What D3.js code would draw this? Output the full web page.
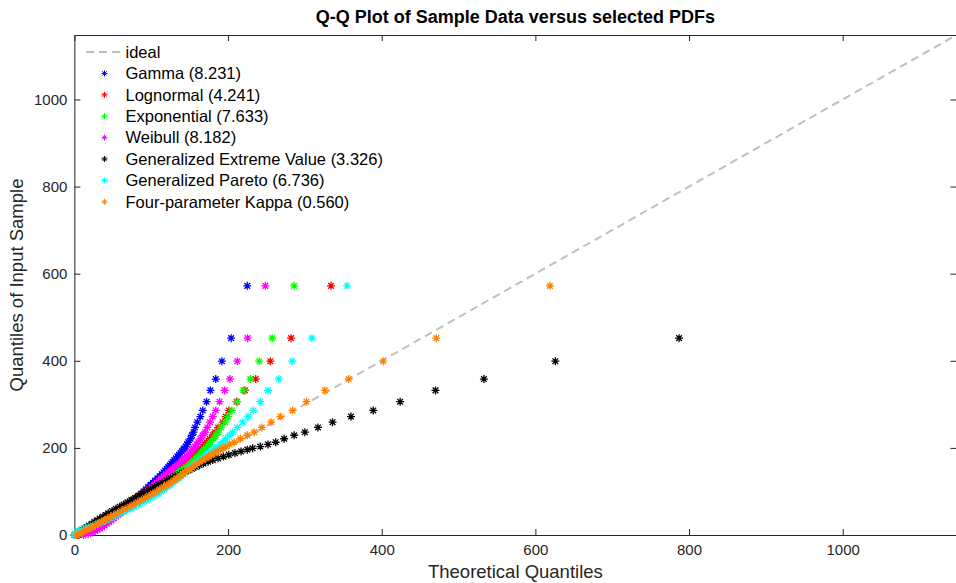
<!DOCTYPE html>
<meta charset="utf-8">
<style>

body {
    margin: 0;
    background: #fff;
}

.qq {
    font-family: "Liberation Sans", Arial, sans-serif;
}

.axis path,
.axis line {
    stroke: #262626;
}

.axis text {
    fill: #262626;
    font-size: 15px;
}

</style>
<svg class="qq" width="956" height="583"></svg>
<script src="https://d3js.org/d3.v7.min.js"></script>
<script>

// sample quantiles (shared by every fit), ascending
var sample = [0, 3, 6, 9, 12, 15, 18, 22, 26, 30, 34, 38, 42, 46, 50, 55, 60, 65, 70, 75,
    80, 85, 90, 95, 100, 105, 110, 115, 120, 125, 130, 135, 140, 144, 148, 152, 156, 160, 164, 168,
    172, 176, 180, 184, 188, 192, 196, 199, 203, 208, 213, 221, 229, 236, 247, 259, 272, 286, 306, 332,
    358, 399, 452, 572];

// theoretical quantiles, one list per fitted pdf
var gamma = [4, 9, 13, 17, 20, 23, 26, 30, 34, 37, 41, 44, 48, 51, 54, 58, 62, 65, 69, 73,
    76, 80, 83, 87, 90, 93, 96, 99, 102, 105, 108, 111, 114, 116, 118, 120, 122, 124, 126, 128,
    130, 132, 134, 136, 138, 140, 142, 143, 145, 146.5, 148, 151, 153, 155, 157, 160, 164, 167, 172, 177,
    184, 192, 204, 225];

var lognormal = [6, 8, 10, 12, 15, 17, 20, 24, 27, 31, 35, 38, 42, 46, 50, 54, 59, 63, 68, 72,
    77, 81, 85, 89, 93, 97, 101, 105, 109, 113, 117, 121, 125, 128, 131, 134, 137, 140, 143, 146,
    149, 151.5, 153.5, 156, 158.5, 161, 163.5, 165, 167.5, 170, 172, 176, 180, 183, 187, 193, 197, 201, 211, 222,
    236, 255, 282, 334];

var exponential = [2, 4, 7, 10, 13, 16, 19, 23, 27, 31, 35, 39, 43, 47, 51, 56, 61, 65, 70, 75,
    79, 84, 89, 93, 98, 102, 107, 111, 115, 119, 124, 128, 132, 135.5, 139, 142, 145, 147.5, 150, 153,
    155, 158, 160, 163, 165, 167, 169, 171, 173, 175, 177, 181, 184, 187, 191, 196, 200, 205, 212, 220,
    229, 240.6, 257.5, 286];

var weibull = [12, 18, 23, 27, 30, 33, 36, 39, 42, 45, 48, 51, 54, 57, 60, 64, 67, 71, 75, 78,
    82, 85, 88, 92, 95, 98, 101, 104, 107, 110, 113, 116, 119, 122, 125, 128, 131, 134, 136, 139,
    141, 143.5, 146, 148, 150, 152, 154, 155.5, 157, 159, 161, 164, 167, 170, 173, 176.5, 180, 184, 189, 195.6,
    202.5, 212, 225.5, 248.5];

var gev = [0, 3, 5, 8, 10, 13, 16, 19, 23, 26, 30, 33, 37, 41, 44, 49, 54, 59, 64, 69,
    74, 79, 84, 89, 94, 99, 104, 109, 114, 120, 125, 131, 137, 142, 148, 153, 158, 163, 168, 174,
    180, 187, 194, 201, 209, 217, 225, 232, 242, 252, 262, 273, 286, 300, 317, 336, 360, 389, 424, 470,
    533, 626, 787, 1420];

var pareto = [0, 1, 3, 5, 9, 14, 18, 24, 30, 36, 41, 46, 51, 56, 61, 67, 73, 78, 84, 89,
    94, 99, 104, 109, 113, 117, 121, 124.5, 128, 132, 135.5, 139, 142, 144.5, 147, 149.5, 152, 155, 157, 160,
    163, 166, 169, 172, 175, 178, 181, 183.5, 186, 190, 193, 197, 202, 206, 212, 219, 226, 233, 242, 252,
    266, 283.5, 309, 355];

var kappa = [3, 6, 10, 13, 16, 20, 23, 27, 31, 35, 39, 43, 47, 51, 56, 61, 66, 72, 77, 82,
    87, 92, 97, 102, 107, 111, 116, 120, 125, 129, 133, 137, 141, 144, 147, 150, 153, 157, 160, 163,
    167, 171, 175, 178, 182, 186, 190, 193, 197, 202, 208, 216, 225, 234, 244, 256, 268, 284, 302, 326,
    357, 402, 471, 619];

var names = ["Gamma (8.231)", "Lognormal (4.241)", "Exponential (7.633)", "Weibull (8.182)",
    "Generalized Extreme Value (3.326)", "Generalized Pareto (6.736)", "Four-parameter Kappa (0.560)"];
var colors = ["#0000ff", "#ff0000", "#00ff00", "#ff00ff", "#000000", "#00ffff", "#ff8000"];
var fits = [gamma, lognormal, exponential, weibull, gev, pareto, kappa];

var ticks = [0, 200, 400, 600, 800, 1000];
var limit = 1148;

var svg = d3.select("svg"),
    margin = {top: 35, right: 0, bottom: 48, left: 74.4},
    width = 882,
    height = 500;

var x = d3.scaleLinear().domain([0, limit]).range([0, width]),
    y = d3.scaleLinear().domain([0, limit]).range([height, 0]);

var g = svg.append("g")
    .attr("transform", "translate(" + margin.left + "," + margin.top + ")");

svg.append("defs").append("clipPath")
    .attr("id", "plotclip")
    .append("rect")
    .attr("x", -5)
    .attr("y", -5)
    .attr("width", width + 5)
    .attr("height", height + 10);

function star(r) {
    var d = r * 0.7071;
    return "M" + (-r) + ",0H" + r + "M0," + (-r) + "V" + r +
        "M" + (-d) + "," + (-d) + "L" + d + "," + d +
        "M" + (-d) + "," + d + "L" + d + "," + (-d);
}

// axes, inward ticks on all four sides
g.append("g")
    .attr("class", "axis axis--x")
    .attr("transform", "translate(0," + height + ")")
    .call(d3.axisBottom(x).tickValues(ticks).tickFormat(d3.format("d"))
        .tickSize(-6).tickPadding(9).tickSizeOuter(0));

g.append("g")
    .attr("class", "axis axis--y")
    .call(d3.axisLeft(y).tickValues(ticks).tickFormat(d3.format("d"))
        .tickSize(-6).tickPadding(7).tickSizeOuter(0));

g.append("g")
    .attr("class", "axis")
    .call(d3.axisTop(x).tickValues(ticks).tickSize(-6).tickFormat("").tickSizeOuter(0));

g.append("g")
    .attr("class", "axis")
    .attr("transform", "translate(" + width + ",0)")
    .call(d3.axisRight(y).tickValues(ticks).tickSize(-6).tickFormat("").tickSizeOuter(0));

var plot = g.append("g").attr("clip-path", "url(#plotclip)");

plot.append("line")
    .attr("x1", x(0))
    .attr("y1", y(0))
    .attr("x2", x(limit))
    .attr("y2", y(limit))
    .attr("stroke", "#c0c0c0")
    .attr("stroke-width", 2)
    .attr("stroke-dasharray", "8,5");

fits.forEach(function(fit, i) {
    plot.append("g")
        .selectAll("path")
        .data(sample)
        .enter()
        .append("path")
        .attr("transform", function(d, j) { return "translate(" + x(fit[j]) + "," + y(d) + ")"; })
        .attr("d", star(4))
        .attr("stroke", colors[i])
        .attr("stroke-width", 1.3)
        .attr("fill", "none");
});

// legend
var legend = svg.append("g").attr("transform", "translate(0,52)");
var rowH = 21.4;

legend.append("line")
    .attr("x1", 86)
    .attr("x2", 121)
    .attr("y1", 0)
    .attr("y2", 0)
    .attr("stroke", "#c0c0c0")
    .attr("stroke-width", 2)
    .attr("stroke-dasharray", "8,5");

legend.append("text")
    .attr("x", 125.5)
    .attr("y", 0)
    .attr("dy", "0.35em")
    .style("font-size", "16.5px")
    .style("fill", "#000")
    .text("ideal");

names.forEach(function(name, i) {
    var row = legend.append("g").attr("transform", "translate(0," + ((i + 1) * rowH) + ")");
    row.append("path")
        .attr("transform", "translate(104.5,0)")
        .attr("d", star(3))
        .attr("stroke", colors[i])
        .attr("stroke-width", 1)
        .attr("fill", "none");
    row.append("text")
        .attr("x", 125.5)
        .attr("y", 0)
        .attr("dy", "0.35em")
        .style("font-size", "16.5px")
        .style("fill", "#000")
        .text(name);
});

svg.append("text")
    .attr("x", margin.left + width / 2)
    .attr("y", 23)
    .style("text-anchor", "middle")
    .style("font-size", "18px")
    .style("font-weight", "bold")
    .text("Q-Q Plot of Sample Data versus selected PDFs");

svg.append("text")
    .attr("x", margin.left + width / 2)
    .attr("y", 578)
    .style("text-anchor", "middle")
    .style("font-size", "18.5px")
    .style("fill", "#262626")
    .text("Theoretical Quantiles");

svg.append("text")
    .attr("transform", "rotate(-90)")
    .attr("x", -(margin.top + height / 2))
    .attr("y", 23)
    .style("text-anchor", "middle")
    .style("font-size", "18.5px")
    .style("fill", "#262626")
    .text("Quantiles of Input Sample");

</script>
